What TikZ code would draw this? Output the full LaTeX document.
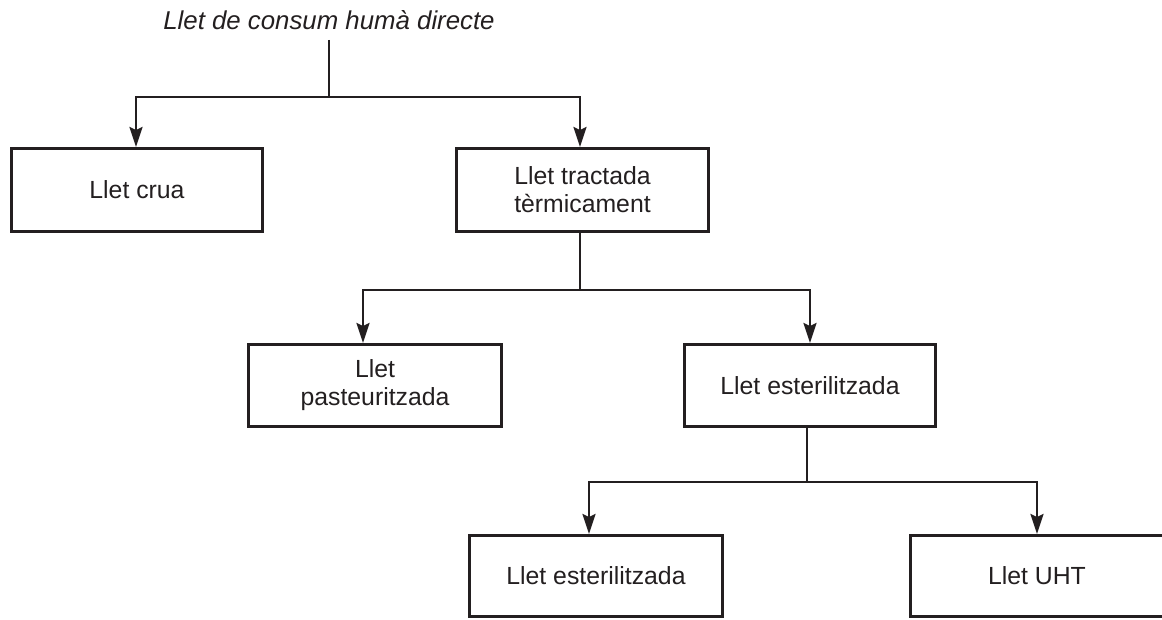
\documentclass[tikz,border=0pt]{standalone}
\usepackage{fontspec}
\setmainfont{Liberation Sans}
\usetikzlibrary{arrows.meta}
\definecolor{ink}{RGB}{35,31,32}
\begin{document}
\begin{tikzpicture}[x=1pt,y=-1pt,
  box/.style={draw=ink,line width=3pt,inner sep=0pt,align=center,text=ink,
    font=\fontsize{24.8}{28}\selectfont},
  conn/.style={draw=ink,line width=2.5pt},
  arr/.style={conn,-{Stealth[length=20pt,width=13pt,inset=3pt]}}]
\useasboundingbox (0,0) rectangle (1162,620);
\node[text=ink,font=\fontsize{25.8}{29}\selectfont\itshape] (title) at (329,20) {Llet de consum humà directe};
\node[box,minimum width=251pt,minimum height=83pt] (crua) at (137,190) {Llet crua};
\node[box,minimum width=252pt,minimum height=83pt] (tract) at (582.5,190) {Llet tractada\\tèrmicament};
\node[box,minimum width=253pt,minimum height=82pt] (past) at (375,385.5) {Llet\\pasteuritzada};
\node[box,minimum width=251pt,minimum height=82pt] (ester) at (810,385.5) {Llet esterilitzada};
\node[box,minimum width=253pt,minimum height=81pt] (ester2) at (596,576) {Llet esterilitzada};
\node[box,minimum width=253pt,minimum height=81pt] (uht) at (1037,576) {Llet UHT};
% level 1
\coordinate (t0) at (329,40);
\coordinate (j1) at (329,97);
\coordinate (l1) at (136,97);
\coordinate (r1) at (580,97);
\draw[conn] (t0) -- (j1);
\draw[conn,line cap=rect] (l1) -- (r1);
\draw[arr] (l1) -- (l1 |- crua.north);
\draw[arr] (r1) -- (r1 |- tract.north);
% level 2
\coordinate (j2) at (580,290);
\coordinate (l2) at (363,290);
\coordinate (r2) at (810,290);
\draw[conn] (j2 |- tract.south) -- (j2);
\draw[conn,line cap=rect] (l2) -- (r2);
\draw[arr] (l2) -- (l2 |- past.north);
\draw[arr] (r2) -- (r2 |- ester.north);
% level 3
\coordinate (j3) at (807,482);
\coordinate (l3) at (589,482);
\coordinate (r3) at (1037,482);
\draw[conn] (j3 |- ester.south) -- (j3);
\draw[conn,line cap=rect] (l3) -- (r3);
\draw[arr] (l3) -- (l3 |- ester2.north);
\draw[arr] (r3) -- (r3 |- uht.north);
\end{tikzpicture}
\end{document}
